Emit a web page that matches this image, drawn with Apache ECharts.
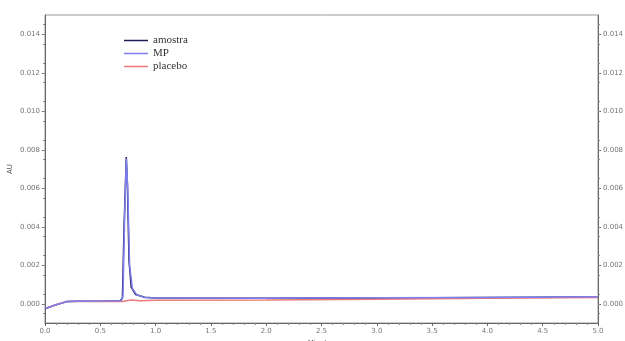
<!DOCTYPE html>
<html>
<head>
<meta charset="utf-8">
<script src="https://cdn.jsdelivr.net/npm/echarts@6/dist/echarts.min.js"></script>
<style>
  html, body { margin: 0; padding: 0; background: #fff; }
  #chart { width: 625px; height: 341px; }
</style>
</head>
<body>
<div id="chart"></div>
<script>
// Chromatogram traces: [time (min), absorbance (AU)]
const amostra = [
  [0.00, -0.00026], [0.05, -0.00016], [0.10, -0.00006], [0.20, 0.00012],
  [0.30, 0.00013], [0.50, 0.00013], [0.68, 0.00015], [0.70, 0.00030],
  [0.715, 0.00400], [0.735, 0.00762], [0.745, 0.00620], [0.76, 0.00220],
  [0.78, 0.00085], [0.82, 0.00048], [0.90, 0.00034], [1.00, 0.00030],
  [2.00, 0.00028], [3.00, 0.00030], [4.00, 0.00032], [5.00, 0.00035]
];
const mp = [
  [0.00, -0.00025], [0.05, -0.00015], [0.10, -0.00005], [0.20, 0.00012],
  [0.30, 0.00013], [0.50, 0.00014], [0.69, 0.00016], [0.705, 0.00040],
  [0.72, 0.00450], [0.735, 0.00755], [0.748, 0.00600], [0.765, 0.00200],
  [0.79, 0.00080], [0.83, 0.00046], [0.90, 0.00033], [1.00, 0.00030],
  [2.00, 0.00029], [3.00, 0.00031], [4.00, 0.00033], [5.00, 0.00037]
];
const placebo = [
  [0.00, -0.00024], [0.05, -0.00014], [0.10, -0.00004], [0.20, 0.00012],
  [0.40, 0.00012], [0.70, 0.00012], [0.78, 0.00020], [0.85, 0.00016],
  [1.00, 0.00018], [2.00, 0.00020], [3.00, 0.00024], [4.00, 0.00028],
  [5.00, 0.00032]
];
const seriesNames = ['amostra', 'MP', 'placebo'];
const seriesColors = ['#1c1c5a', '#7f7ff0', '#ec7a7a'];
const xTicks = { min: 0, max: 5, interval: 0.5 };
const yTicks = { min: -0.001, max: 0.015, interval: 0.002 };
const yLabelValues = [0, 0.002, 0.004, 0.006, 0.008, 0.010, 0.012, 0.014];

const chart = echarts.init(document.getElementById('chart'), null, { renderer: 'canvas' });

const tickLabel = { fontSize: 7, color: '#777', fontFamily: 'DejaVu Sans' };
const axisLineStyle = { color: '#666', width: 1 };

function yAxisDef(pos) {
  return {
    type: 'value', position: pos,
    min: yTicks.min, max: yTicks.max, interval: yTicks.interval,
    name: pos === 'left' ? 'AU' : '',
    nameLocation: 'middle', nameGap: 31, nameRotate: 90, nameMoveOverlap: false,
    nameTextStyle: { fontSize: 7, color: '#555', fontFamily: 'DejaVu Sans' },
    axisLine: { show: true, lineStyle: axisLineStyle },
    axisTick: { show: true, length: 3, lineStyle: axisLineStyle, customValues: yLabelValues },
    minorTick: { show: true, splitNumber: 4, length: 2, lineStyle: { color: '#888' } },
    axisLabel: Object.assign({ margin: 5, customValues: yLabelValues,
      formatter: v => v.toFixed(3) }, tickLabel),
    splitLine: { show: false }
  };
}

chart.setOption({
  animation: false,
  backgroundColor: '#fff',
  grid: {
    left: 45, right: 27, top: 15, bottom: 18,
    outerBoundsMode: 'none', containLabel: false,
    show: true, borderColor: '#999', borderWidth: 1
  },
  legend: {
    orient: 'vertical', left: 119, top: 29,
    data: seriesNames,
    icon: 'rect', itemWidth: 24, itemHeight: 1.5, itemGap: 0,
    textStyle: { fontFamily: 'Liberation Serif', fontSize: 11, color: '#333', lineHeight: 13 }
  },
  xAxis: {
    type: 'value', min: xTicks.min, max: xTicks.max, interval: xTicks.interval,
    name: 'Minutes', nameLocation: 'middle', nameGap: 17, nameMoveOverlap: false,
    nameTextStyle: { fontSize: 7, color: '#555', fontFamily: 'DejaVu Sans' },
    axisLine: { show: true, onZero: false, lineStyle: axisLineStyle },
    axisTick: { show: true, length: 3, lineStyle: axisLineStyle },
    minorTick: { show: true, splitNumber: 5, length: 2, lineStyle: { color: '#888' } },
    axisLabel: Object.assign({ margin: 5, formatter: v => v.toFixed(1) }, tickLabel),
    splitLine: { show: false }
  },
  yAxis: [yAxisDef('left'), yAxisDef('right')],
  series: [
    { name: seriesNames[0], data: amostra, color: seriesColors[0] },
    { name: seriesNames[2], data: placebo, color: seriesColors[2] },
    { name: seriesNames[1], data: mp, color: seriesColors[1] }
  ].map(s => Object.assign({
    type: 'line', showSymbol: false, symbol: 'none',
    lineStyle: { width: 1.5, color: s.color }, itemStyle: { color: s.color },
    clip: true
  }, s))
});
</script>
</body>
</html>
